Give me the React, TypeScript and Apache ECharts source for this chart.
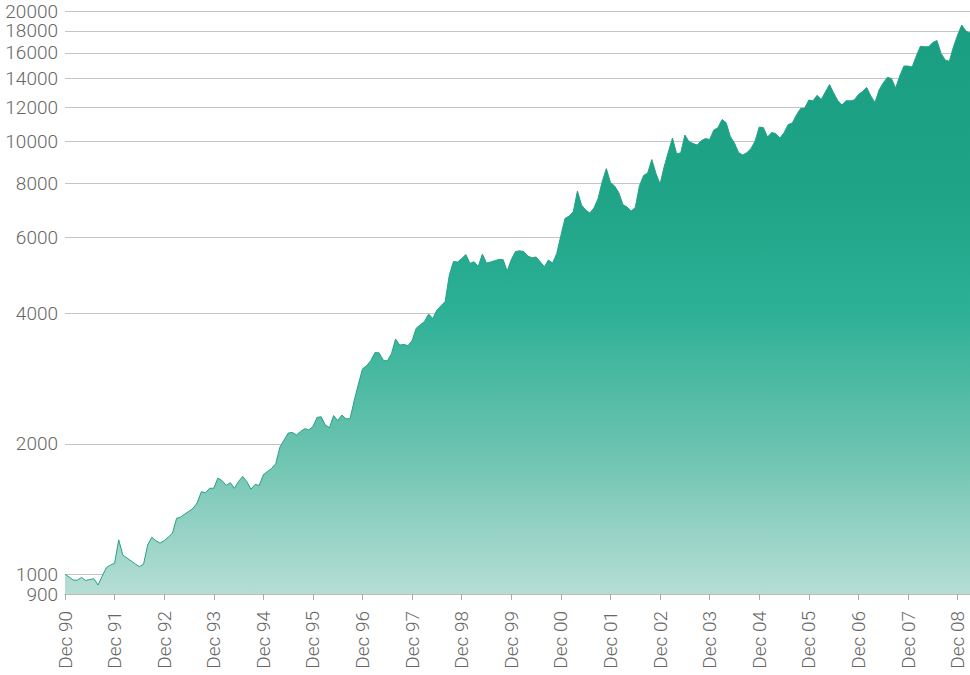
import React, { useEffect, useRef } from "react";
import * as echarts from "echarts";

// Monthly index values, Dec 1990 onwards (12 per row: Dec..Nov)
const values1991 = [1000, 985, 969, 969, 983, 967, 972, 976, 944, 990, 1035, 1050];
const values1992 = [1060, 1200, 1107, 1090, 1073, 1056, 1041, 1054, 1168, 1217, 1195, 1180];
const values1993 = [1195, 1218, 1243, 1346, 1355, 1377, 1397, 1420, 1463, 1551, 1543, 1579];
const values1994 = [1580, 1667, 1645, 1603, 1627, 1579, 1638, 1682, 1636, 1572, 1612, 1603];
const values1995 = [1698, 1727, 1755, 1800, 1965, 2040, 2118, 2126, 2098, 2135, 2169, 2154];
const values1996 = [2193, 2303, 2310, 2210, 2181, 2325, 2264, 2331, 2285, 2287, 2523, 2748];
const values1997 = [2982, 3030, 3115, 3250, 3246, 3123, 3107, 3231, 3493, 3382, 3395, 3372];
const values1998 = [3465, 3702, 3768, 3837, 3989, 3895, 4075, 4169, 4268, 4910, 5275, 5263];
const values1999 = [5360, 5474, 5224, 5268, 5136, 5489, 5232, 5263, 5300, 5335, 5335, 5014];
const values2000 = [5330, 5563, 5585, 5563, 5431, 5380, 5405, 5268, 5133, 5318, 5232, 5509];
const values2001 = [6057, 6637, 6719, 6874, 7676, 7124, 6937, 6827, 7011, 7374, 8074, 8650];
const values2002 = [8031, 7883, 7614, 7143, 7049, 6900, 7030, 7883, 8334, 8446, 9075, 8433];
const values2003 = [7967, 8743, 9445, 10176, 9370, 9395, 10339, 9988, 9882, 9803, 10041, 10148];
const values2004 = [10094, 10618, 10743, 11228, 11033, 10257, 9908, 9420, 9296, 9410, 9623, 10014];
const values2005 = [10788, 10760, 10230, 10478, 10422, 10176, 10467, 10933, 11021, 11501, 11906, 11934];
const values2006 = [12457, 12400, 12772, 12490, 12998, 13527, 12938, 12428, 12130, 12412, 12400, 12457];
const values2007 = [12826, 13032, 13313, 12725, 12293, 13137, 13635, 14055, 13966, 13277, 14153, 14925];
const values2008 = [14925, 14846, 15741, 16584, 16541, 16541, 16914, 17095, 15952, 15410, 15303, 16541];
const values2009 = [17603, 18564, 17981, 17791];

const seriesValues = [
  ...values1991, ...values1992, ...values1993, ...values1994, ...values1995,
  ...values1996, ...values1997, ...values1998, ...values1999, ...values2000,
  ...values2001, ...values2002, ...values2003, ...values2004, ...values2005,
  ...values2006, ...values2007, ...values2008, ...values2009,
];

const monthNames = ["Jan", "Feb", "Mar", "Apr", "May", "Jun", "Jul", "Aug", "Sep", "Oct", "Nov", "Dec"];
const startYear = 1990;
const startMonth = 11; // December

const categories: string[] = seriesValues.map((_, k) => {
  const m = (startMonth + k) % 12;
  const y = startYear + Math.floor((startMonth + k) / 12);
  return `${monthNames[m]} ${String(y % 100).padStart(2, "0")}`;
});

const yTickLabels = [900, 1000, 2000, 4000, 6000, 8000, 10000, 12000, 14000, 16000, 18000, 20000];

const FONT = "Roboto, 'Liberation Sans', Arial, sans-serif";

export default function App() {
  const ref = useRef<HTMLDivElement>(null);

  useEffect(() => {
    if (!ref.current) return;
    const chart = echarts.init(ref.current, null, { renderer: "svg" });
    const isDec = (i: number) => !!categories[i] && categories[i].startsWith("Dec");
    chart.setOption({
      animation: false,
      grid: { left: 65, right: 0, top: 11, bottom: 81, containLabel: false },
      xAxis: {
        type: "category",
        data: categories,
        boundaryGap: false,
        axisLine: { show: true, lineStyle: { color: "#bbbbbb" } },
        axisTick: {
          show: true,
          interval: (i: number) => isDec(i),
          length: 6,
          lineStyle: { color: "#aaaaaa" },
        },
        axisLabel: {
          interval: (i: number) => isDec(i),
          rotate: 90,
          margin: 17,
          fontSize: 19,
          fontWeight: 300,
          color: "#666666",
          fontFamily: FONT,
        },
        splitLine: { show: false },
      },
      yAxis: {
        type: "log",
        logBase: 10,
        min: 900,
        max: 20000,
        axisLine: { show: false },
        axisTick: { show: false, customValues: yTickLabels },
        axisLabel: {
          customValues: yTickLabels,
          formatter: (v: number) => String(Math.round(v)),
          fontSize: 19,
          lineHeight: 17,
          fontWeight: 300,
          color: "#666666",
          margin: 7,
          fontFamily: FONT,
          hideOverlap: false,
        },
        splitLine: { show: true, lineStyle: { color: "#c4c4c4", width: 1 } },
      },
      series: [
        {
          type: "line",
          data: seriesValues,
          symbol: "none",
          smooth: false,
          lineStyle: { color: "#27a085", width: 1 },
          areaStyle: {
            origin: "start",
            opacity: 1,
            color: new echarts.graphic.LinearGradient(0, 0, 0, 1, [
              { offset: 0, color: "#199e82" },
              { offset: 0.3, color: "#1fa487" },
              { offset: 0.5, color: "#2cb096" },
              { offset: 0.75, color: "#6cc3b0" },
              { offset: 1, color: "#b6ded5" },
            ]),
          },
        },
      ],
    });
    return () => chart.dispose();
  }, []);

  return (
    <div
      ref={ref}
      style={{ position: "absolute", left: 0, top: 0, width: 970, height: 675 }}
    />
  );
}
